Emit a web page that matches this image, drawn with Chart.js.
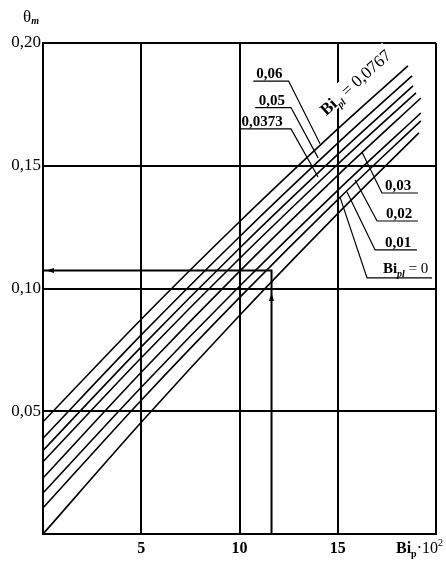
<!DOCTYPE html>
<html>
<head>
<meta charset="utf-8">
<script src="https://cdn.jsdelivr.net/npm/chart.js@4.4.0/dist/chart.umd.min.js"></script>
<style>
  html, body { margin: 0; padding: 0; background: #fff; }
</style>
</head>
<body>
<canvas id="chart" width="446" height="567"></canvas>
<script>
// Bi_pl values, one curve each
const biPl = ['0', '0,01', '0,02', '0,03', '0,0373', '0,05', '0,06', '0,0767'];

// Bi_p * 10^2 positions (last value = where the curve stops)
const xBi0 = [0, 5, 10, 15, 19.13];
const xBi001 = [0, 5, 10, 15, 19.23];
const xBi002 = [0, 5, 10, 15, 19.23];
const xBi003 = [0, 5, 10, 15, 19.23];
const xBi00373 = [0, 5, 10, 15, 18.98];
const xBi005 = [0, 5, 10, 15, 18.83];
const xBi006 = [0, 5, 10, 15, 18.78];
const xBi00767 = [0, 5, 10, 15, 18.57];

// theta_m
const thBi0 = [0, 0.0455, 0.089, 0.1305, 0.1634];
const thBi001 = [0.0106, 0.0545, 0.0963, 0.1362, 0.1683];
const thBi002 = [0.0167, 0.0598, 0.1009, 0.14, 0.1715];
const thBi003 = [0.0228, 0.0659, 0.107, 0.1461, 0.1776];
const thBi00373 = [0.0294, 0.0718, 0.1122, 0.1506, 0.1797];
const thBi005 = [0.034, 0.0762, 0.1164, 0.1546, 0.1825];
const thBi006 = [0.039, 0.0811, 0.1211, 0.1592, 0.1866];
const thBi00767 = [0.0457, 0.0875, 0.1272, 0.165, 0.1907];

// tick labels
const xTickLabels = ['', '5', '10', '15', ''];
const yTickLabels = ['', '0,05', '0,10', '0,15', '0,20'];

// worked example on the chart
const exampleBi = 11.63;
const exampleTheta = 0.1073;

const SERIF = '"Liberation Serif", "Times New Roman", serif';

const xs = [xBi0, xBi001, xBi002, xBi003, xBi00373, xBi005, xBi006, xBi00767];
const ths = [thBi0, thBi001, thBi002, thBi003, thBi00373, thBi005, thBi006, thBi00767];

const datasets = biPl.map((name, i) => ({
  label: 'Bi_pl = ' + name,
  data: xs[i].map((x, j) => ({ x: x, y: ths[i][j] })),
  borderColor: '#000',
  borderWidth: 1.6,
  pointRadius: 0,
  tension: 0.3,
  fill: false
}));

// label callouts: text anchor, underline and leader end, all in data units
const leftLabels = [
  { text: '0,06', at: [10.85, 0.1857], line: [10.7, 12.5, 0.1845], to: [14.1, 0.159] },
  { text: '0,05', at: [10.98, 0.1747], line: [10.8, 12.62, 0.1737], to: [14.0, 0.1532] },
  { text: '0,0373', at: [10.1, 0.1662], line: [9.97, 12.62, 0.165], to: [14.0, 0.1454] }
];
const rightLabels = [
  { text: '0,03', at: [17.4, 0.1401], line: [17.25, 19.08, 0.1389], to: [16.23, 0.1556] },
  { text: '0,02', at: [17.45, 0.1287], line: [17.0, 19.08, 0.1275], to: [15.88, 0.1443] },
  { text: '0,01', at: [17.4, 0.1169], line: [16.9, 19.03, 0.1157], to: [15.47, 0.1393] }
];

function drawRich(ctx, parts, x, y) {
  let cx = x;
  parts.forEach(p => {
    ctx.font = p.f;
    ctx.fillText(p.t, cx, y + (p.dy || 0));
    cx += ctx.measureText(p.t).width;
  });
  return cx - x;
}

const annotations = {
  id: 'annotations',
  afterDatasetsDraw(chart) {
    const ctx = chart.ctx;
    const sx = chart.scales.x, sy = chart.scales.y;
    const px = v => sx.getPixelForValue(v);
    const py = v => sy.getPixelForValue(v);
    ctx.save();
    ctx.fillStyle = '#000';
    ctx.strokeStyle = '#000';
    ctx.textBaseline = 'alphabetic';

    // example reading lines
    ctx.lineWidth = 2;
    ctx.beginPath();
    ctx.moveTo(px(0), py(exampleTheta));
    ctx.lineTo(px(exampleBi), py(exampleTheta));
    ctx.lineTo(px(exampleBi), py(0));
    ctx.stroke();
    // arrow heads
    const ax = px(0) + 3, ay = py(exampleTheta);
    ctx.beginPath();
    ctx.moveTo(ax, ay);
    ctx.lineTo(ax + 8, ay - 2.5);
    ctx.lineTo(ax + 8, ay + 2.5);
    ctx.closePath();
    ctx.fill();
    const bx = px(exampleBi), by = py(0.0965);
    ctx.beginPath();
    ctx.moveTo(bx, by - 4);
    ctx.lineTo(bx - 2.5, by + 4);
    ctx.lineTo(bx + 2.5, by + 4);
    ctx.closePath();
    ctx.fill();

    // callouts
    ctx.lineWidth = 1.2;
    const labelFont = 'bold 15px ' + SERIF;
    leftLabels.forEach(l => {
      ctx.font = labelFont;
      ctx.fillText(l.text, px(l.at[0]), py(l.at[1]));
      ctx.beginPath();
      ctx.moveTo(px(l.line[0]), py(l.line[2]));
      ctx.lineTo(px(l.line[1]), py(l.line[2]));
      ctx.lineTo(px(l.to[0]), py(l.to[1]));
      ctx.stroke();
    });
    rightLabels.forEach(l => {
      ctx.font = labelFont;
      ctx.fillText(l.text, px(l.at[0]), py(l.at[1]));
      ctx.beginPath();
      ctx.moveTo(px(l.line[1]), py(l.line[2]));
      ctx.lineTo(px(l.line[0]), py(l.line[2]));
      ctx.lineTo(px(l.to[0]), py(l.to[1]));
      ctx.stroke();
    });
    // Bi_pl = 0
    drawRich(ctx, [
      { t: 'Bi', f: 'bold 15px ' + SERIF },
      { t: 'pl', f: 'bold italic 10px ' + SERIF, dy: 4 },
      { t: ' = 0', f: '15px ' + SERIF }
    ], px(17.3), py(0.1063));
    ctx.beginPath();
    ctx.moveTo(px(19.8), py(0.1043));
    ctx.lineTo(px(16.49), py(0.1043));
    ctx.lineTo(px(15.11), py(0.1373));
    ctx.stroke();

    // rotated Bi_pl = 0,0767 along the top curve
    ctx.save();
    ctx.translate(px(15.95), py(0.1835));
    ctx.rotate(-42 * Math.PI / 180);
    const parts = [
      { t: 'Bi', f: 'bold 17px ' + SERIF },
      { t: 'pl', f: 'bold italic 10px ' + SERIF, dy: 4 },
      { t: ' = 0,0767', f: '17px ' + SERIF }
    ];
    let w = 0;
    parts.forEach(p => { ctx.font = p.f; w += ctx.measureText(p.t).width; });
    ctx.fillStyle = '#fff';
    ctx.fillRect(-w / 2 - 2, -13, w + 4, 19);
    ctx.fillStyle = '#000';
    drawRich(ctx, parts, -w / 2, 4);
    ctx.restore();

    // axis titles
    drawRich(ctx, [
      { t: 'θ', f: '17px ' + SERIF },
      { t: 'm', f: 'bold italic 10px ' + SERIF, dy: 2 }
    ], 23, 22);
    drawRich(ctx, [
      { t: 'Bi', f: 'bold 16px ' + SERIF },
      { t: 'p', f: 'bold 10px ' + SERIF, dy: 4 },
      { t: '·10', f: '16px ' + SERIF },
      { t: '2', f: '10px ' + SERIF, dy: -7 }
    ], 396, 553);
    ctx.restore();
  }
};

new Chart(document.getElementById('chart'), {
  type: 'line',
  data: { datasets: datasets },
  options: {
    responsive: false,
    animation: false,
    layout: { padding: { top: 43, right: 10, left: 0, bottom: 0 } },
    plugins: { legend: { display: false }, tooltip: { enabled: false } },
    scales: {
      x: {
        type: 'linear',
        min: 0,
        max: 20,
        afterFit: s => { s.height = 33; },
        ticks: {
          stepSize: 5,
          padding: 5,
          color: '#000',
          font: { family: SERIF, size: 16, weight: 'bold' },
          callback: (v, i) => xTickLabels[i]
        },
        grid: { color: '#000', lineWidth: 2, drawTicks: false },
        border: { color: '#000', width: 2 }
      },
      y: {
        type: 'linear',
        min: 0,
        max: 0.2,
        afterFit: s => { s.width = 43; },
        ticks: {
          stepSize: 0.05,
          padding: 2,
          color: '#000',
          font: { family: SERIF, size: 17 },
          callback: (v, i) => yTickLabels[i]
        },
        grid: { color: '#000', lineWidth: 2, drawTicks: false },
        border: { color: '#000', width: 2 }
      }
    }
  },
  plugins: [annotations]
});
</script>
</body>
</html>
